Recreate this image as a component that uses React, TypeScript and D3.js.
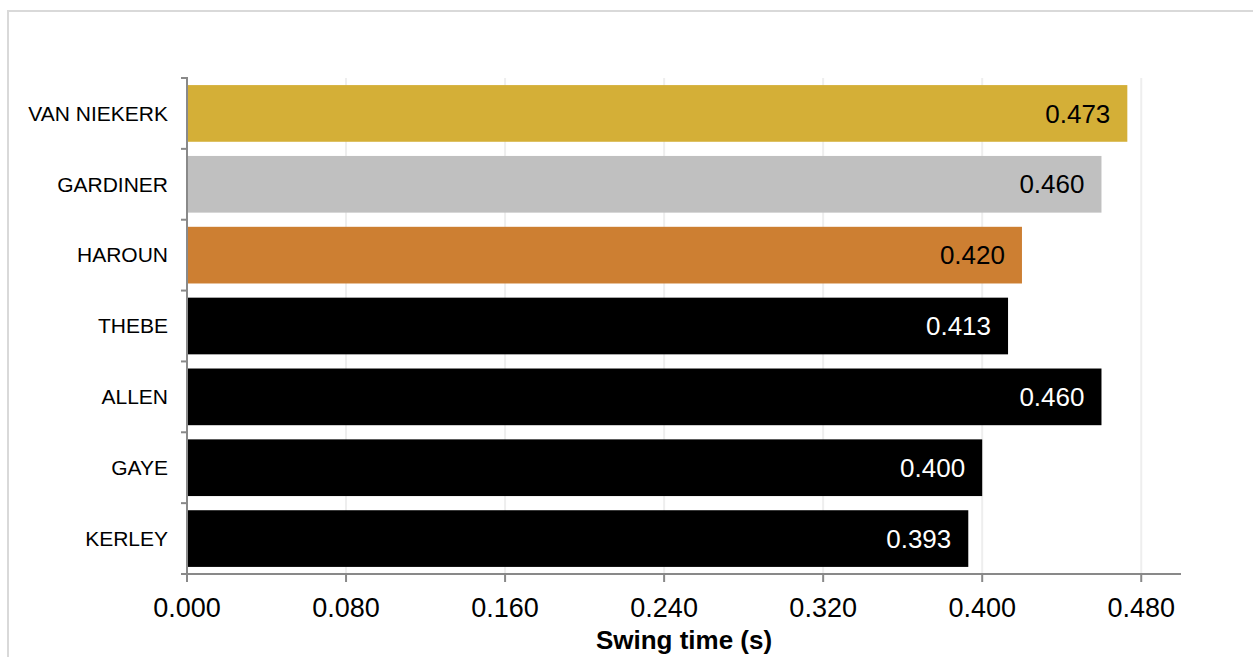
import React from "react";
import * as d3 from "d3";

const athletes = ["VAN NIEKERK", "GARDINER", "HAROUN", "THEBE", "ALLEN", "GAYE", "KERLEY"];
const swingTimes = [0.473, 0.46, 0.42, 0.413, 0.46, 0.4, 0.393];
const barColors = ["#D4AF37", "#C0C0C0", "#CD7F32", "#000000", "#000000", "#000000", "#000000"];
const labelColors = ["#000000", "#000000", "#000000", "#ffffff", "#ffffff", "#ffffff", "#ffffff"];
const xTicks = [0, 0.08, 0.16, 0.24, 0.32, 0.4, 0.48];
const xTitle = "Swing time (s)";

const W = 1253;
const H = 657;
const left = 187;
const right = 1181;
const top = 78;
const bottom = 574;
const font = "'Liberation Sans', Arial, sans-serif";

export default function App() {
  const x = d3.scaleLinear().domain([0, 0.5]).range([left, right]);
  const y = d3.scaleBand<string>().domain(athletes).range([top, bottom]).paddingInner(0.2).paddingOuter(0.1);
  const fmt = d3.format(".3f");
  const step = y.step();
  const boundaries = d3.range(athletes.length + 1).map((i) => top + i * step);
  const axisColor = "#898989";

  return (
    <svg width={W} height={H} style={{ position: "absolute", left: 0, top: 0, fontFamily: font }}>
      <rect x={0} y={0} width={W} height={H} fill="#fff" />
      <rect x={8} y={11} width={1400} height={800} fill="none" stroke="#d9d9d9" strokeWidth={2} />
      {xTicks.slice(1).map((t) => (
        <line key={"g" + t} x1={x(t)} x2={x(t)} y1={top} y2={bottom} stroke="#eeeeee" strokeWidth={2} />
      ))}
      {athletes.map((a, i) => (
        <g key={a}>
          <rect x={x(0)} y={y(a)} width={x(swingTimes[i]) - x(0)} height={y.bandwidth()} fill={barColors[i]} />
          <text
            x={x(swingTimes[i]) - 17}
            y={(y(a) as number) + y.bandwidth() / 2}
            dy="0.35em"
            textAnchor="end"
            fontSize={26}
            fill={labelColors[i]}
          >
            {fmt(swingTimes[i])}
          </text>
          <text x={168} y={(y(a) as number) + y.bandwidth() / 2} dy="0.35em" textAnchor="end" fontSize={21} fill="#000">
            {a}
          </text>
        </g>
      ))}
      <line x1={left} x2={left} y1={top - 1} y2={bottom + 8} stroke={axisColor} strokeWidth={2} />
      {boundaries.map((b, i) => (
        <line key={"yt" + i} x1={181} x2={left} y1={b} y2={b} stroke={axisColor} strokeWidth={2} />
      ))}
      <line x1={left} x2={right} y1={bottom} y2={bottom} stroke={axisColor} strokeWidth={2} />
      {xTicks.map((t) => (
        <g key={"xt" + t}>
          <line x1={x(t)} x2={x(t)} y1={bottom} y2={bottom + 8} stroke={axisColor} strokeWidth={2} />
          <text x={x(t)} y={617} textAnchor="middle" fontSize={27} fill="#000">
            {fmt(t)}
          </text>
        </g>
      ))}
      <text x={(left + right) / 2} y={649} textAnchor="middle" fontSize={26} fontWeight="bold" fill="#000">
        {xTitle}
      </text>
    </svg>
  );
}
